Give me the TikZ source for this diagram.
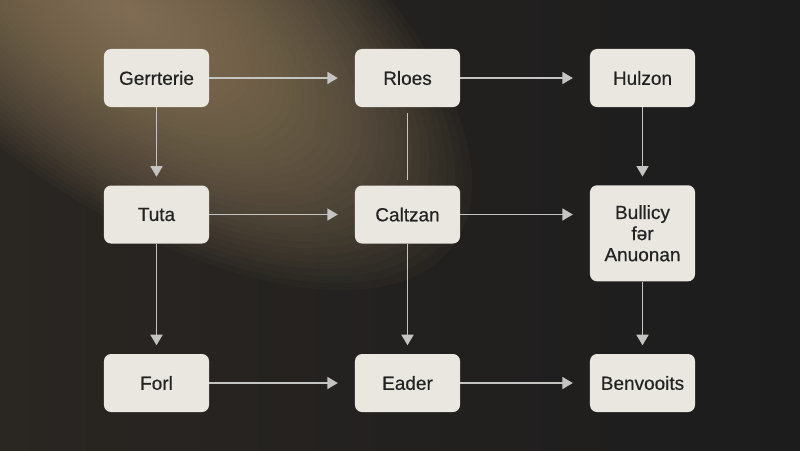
\documentclass[tikz,border=0pt]{standalone}
\usepackage{fontspec}
\setmainfont{Liberation Sans}
\newfontfamily\boxfont[FakeBold=0.5]{Liberation Sans}
\usetikzlibrary{arrows.meta,positioning,calc}

\definecolor{bgdark}{HTML}{1C1C1D}
\definecolor{bgwarm}{HTML}{2A2622}
\definecolor{glow}{HTML}{A38C6B}
\definecolor{boxfill}{HTML}{E9E7E0}
\definecolor{boxtext}{HTML}{232323}
\definecolor{linegray}{HTML}{C4C4C2}

\begin{document}
\begin{tikzpicture}[x=0.025cm,y=-0.025cm,
  box/.style={rectangle,rounded corners=5pt,fill=boxfill,text=boxtext,
    minimum width=2.625cm,minimum height=1.45cm,font=\boxfont\fontsize{13.5}{16}\selectfont,
    align=center,inner sep=2pt},
  link/.style={draw=linegray,line width=1.3pt,-{Triangle[length=7.5pt,width=8.5pt]}},
  plain/.style={draw=linegray,line width=1.3pt}]
\useasboundingbox (0,0) rectangle (800,450);

% background with glow
\begin{scope}
\clip (0,0) rectangle (800,450);
\shade[left color=bgwarm,right color=bgdark] (0,0) rectangle (800,450);
\foreach \k in {1,...,40}
  \fill[glow,opacity=0.04,rotate around={-36:(130,10)}] (130,10) ellipse ({10*\k} and {4.7*\k});
\end{scope}

% top row
\node[box,name=gerrterie] at (156.5,78) {Gerrterie};
\node[box,name=rloes] at (407.5,78) {Rloes};
\node[box,name=hulzon] at (642.5,78) {Hulzon};

% middle row
\node[box,name=tuta] at (156.5,214.5) {Tuta};
\node[box,name=caltzan] at (407.5,214.5) {Caltzan};
\node[box,name=bullicy,anchor=north,minimum height=2.4cm] at (642.5,185) {Bullicy\\[-1pt]fər\\[-1pt]Anuonan};

% bottom row
\node[box,name=forl] at (156.5,383) {Forl};
\node[box,name=eader] at (407.5,383) {Eader};
\node[box,name=benvooits] at (642.5,383) {Benvooits};

% across
\draw[link,shorten >=12pt] (gerrterie) -- (rloes);
\draw[link,shorten >=12pt] (rloes) -- (hulzon);
\draw[link,shorten >=12pt] (tuta) -- (caltzan);
\draw[link,shorten >=12pt] (caltzan.east) -- (caltzan.east -| bullicy.west);
\draw[link,shorten >=12pt] (forl) -- (eader);
\draw[link,shorten >=12pt] (eader) -- (benvooits);

% down
\draw[link,shorten >=6pt] (gerrterie) -- (tuta);
\draw[link,shorten >=6pt] (tuta) -- (forl);
\draw[plain,shorten <=4pt,shorten >=4pt] (rloes) -- (caltzan);
\draw[link,shorten >=6pt] (caltzan) -- (eader);
\draw[link,shorten >=6pt] (hulzon) -- (bullicy);
\draw[link,shorten >=6pt] (bullicy) -- (benvooits);
\end{tikzpicture}
\end{document}
